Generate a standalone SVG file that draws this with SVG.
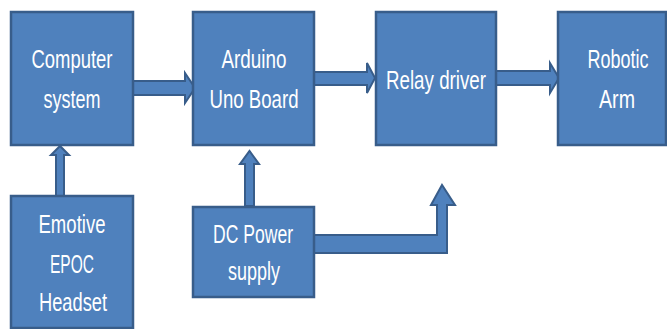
<svg xmlns="http://www.w3.org/2000/svg" width="667" height="329" viewBox="0 0 667 329">
<style>
.box{fill:#4F81BD;stroke:#385D8A;stroke-width:2.5}
.arr{fill:#4F81BD;stroke:#385D8A;stroke-width:2;stroke-linejoin:miter}
.t{font-family:"Liberation Sans",Arial,sans-serif;font-size:26px;fill:#FFFFFF;text-anchor:middle}
</style>
<rect width="667" height="329" fill="#FFFFFF"/>
<g id="connectors">
<polygon class="arr" points="133,81 185,81 185,73 195,88 185,103 185,95 133,95"/>
<polygon class="arr" points="314,72 367,72 367,63 375,78 367,93 367,85 314,85"/>
<polygon class="arr" points="496,71 550,71 550,63 559,78 550,93 550,85 496,85"/>
<polygon class="arr" points="56,196 56,155 51,155 60,146 69,155 64,155 64,196"/>
<polygon class="arr" points="245,206 245,164 240,164 249.5,151 259,164 254,164 254,206"/>
<polygon class="arr" points="314,235 437,235 437,205 431,205 442,185 455,205 447,205 447,253 314,253"/>
</g>
<g id="computer">
<rect class="box" x="11" y="12" width="122" height="133"/>
<text class="t" x="72" y="68" textLength="81" lengthAdjust="spacingAndGlyphs">Computer</text>
<text class="t" x="72" y="108" textLength="57" lengthAdjust="spacingAndGlyphs">system</text>
</g>
<g id="arduino">
<rect class="box" x="193" y="12" width="121" height="133"/>
<text class="t" x="254" y="68" textLength="65" lengthAdjust="spacingAndGlyphs">Arduino</text>
<text class="t" x="254" y="108" textLength="89" lengthAdjust="spacingAndGlyphs">Uno Board</text>
</g>
<g id="relay">
<rect class="box" x="376" y="12" width="120" height="133"/>
<text class="t" x="436" y="89" textLength="100" lengthAdjust="spacingAndGlyphs">Relay driver</text>
</g>
<g id="robotic">
<rect class="box" x="558" y="12" width="108" height="133"/>
<text class="t" x="618" y="68" textLength="61" lengthAdjust="spacingAndGlyphs">Robotic</text>
<text class="t" x="617" y="108" textLength="36" lengthAdjust="spacingAndGlyphs">Arm</text>
</g>
<g id="emotive">
<rect class="box" x="11" y="196" width="122" height="132"/>
<text class="t" x="72" y="233" textLength="67" lengthAdjust="spacingAndGlyphs">Emotive</text>
<text class="t" x="72" y="273" textLength="44" lengthAdjust="spacingAndGlyphs">EPOC</text>
<text class="t" x="73" y="311" textLength="68" lengthAdjust="spacingAndGlyphs">Headset</text>
</g>
<g id="dcpower">
<rect class="box" x="193" y="207" width="121" height="90"/>
<text class="t" x="253" y="243" textLength="80" lengthAdjust="spacingAndGlyphs">DC Power</text>
<text class="t" x="254" y="280" textLength="52" lengthAdjust="spacingAndGlyphs">supply</text>
</g>
</svg>
